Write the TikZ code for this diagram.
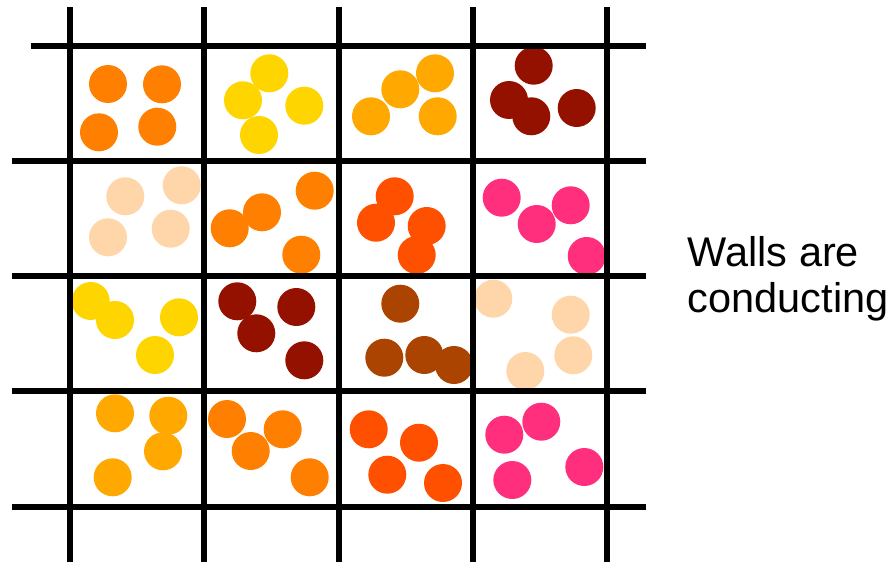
\documentclass[tikz,border=0pt]{standalone}
\usepackage{fontspec}
\setmainfont{Liberation Sans}
\definecolor{cOr}{HTML}{FF7F00}
\definecolor{cYe}{HTML}{FFD500}
\definecolor{cAm}{HTML}{FFA800}
\definecolor{cDr}{HTML}{941100}
\definecolor{cPe}{HTML}{FFD5AA}
\definecolor{cRo}{HTML}{FF5000}
\definecolor{cPi}{HTML}{FF2F7D}
\definecolor{cBr}{HTML}{AA4400}
\begin{document}
\begin{tikzpicture}[x=1pt,y=-1pt,
  wall/.style={line width=5.6pt,black},
  ball/.style={radius=19},
  caption/.style={anchor=base west,inner sep=0pt,font=\fontsize{41.5}{47}\selectfont}]
\useasboundingbox (0,0) rectangle (895,562);
% row 1
\foreach \p in {(108,84),(162,84.3),(99,132.3),(157.3,126.7)} \fill[cOr] \p circle[ball];
\foreach \p in {(269.3,73.3),(243,100.3),(304.3,105.7),(259,135)} \fill[cYe] \p circle[ball];
\foreach \p in {(371,116.3),(400.3,89.3),(435,73.3),(437.7,116.3)} \fill[cAm] \p circle[ball];
\foreach \p in {(533.7,65.7),(509,100),(531.3,116.3),(576.7,108)} \fill[cDr] \p circle[ball];
% row 2
\foreach \p in {(125.3,196.3),(181.7,185.3),(108,237.3),(170.7,228.7)} \fill[cPe] \p circle[ball];
\foreach \p in {(229.7,228.3),(262,212.3),(314.7,190.7),(301.3,254.7)} \fill[cOr] \p circle[ball];
\foreach \p in {(394.7,196.3),(376,222.7),(426.7,226),(416.7,255)} \fill[cRo] \p circle[ball];
\foreach \p in {(501.7,197.7),(536.7,224),(570.7,205.3),(586.7,256)} \fill[cPi] \p circle[ball];
% row 3
\foreach \p in {(90.7,301),(115,320),(179,317.3),(155,355)} \fill[cYe] \p circle[ball];
\foreach \p in {(237.3,301.3),(256.3,333.3),(296.3,307),(304.3,360.3)} \fill[cDr] \p circle[ball];
\foreach \p in {(400.3,303.7),(384.3,357.7),(424.3,355),(454,365)} \fill[cBr] \p circle[ball];
\foreach \p in {(493.3,298.7),(570.7,314.7),(573.3,355.3),(525.3,371)} \fill[cPe] \p circle[ball];
% row 4
\foreach \p in {(115,413.3),(168.3,415.7),(163,451.3),(112.7,477.3)} \fill[cAm] \p circle[ball];
\foreach \p in {(227,419),(282.7,429.3),(250.7,451),(309.7,477.3)} \fill[cOr] \p circle[ball];
\foreach \p in {(368.7,429.3),(419,442.7),(387.3,474.7),(443,483)} \fill[cRo] \p circle[ball];
\foreach \p in {(504.3,434.7),(541.3,421.7),(512.3,480),(584.3,467)} \fill[cPi] \p circle[ball];
% walls
\foreach \x in {70,204,339,473,607} \draw[wall] (\x,7) -- (\x,562);
\draw[wall] (31,46) -- (646,46);
\foreach \y in {161,276,391,507} \draw[wall] (12,\y) -- (646,\y);
\node[caption] (label1) at (687.5,266) {Walls are};
\node[caption] (label2) at (687.5,312.5) {conducting};
\end{tikzpicture}
\end{document}
